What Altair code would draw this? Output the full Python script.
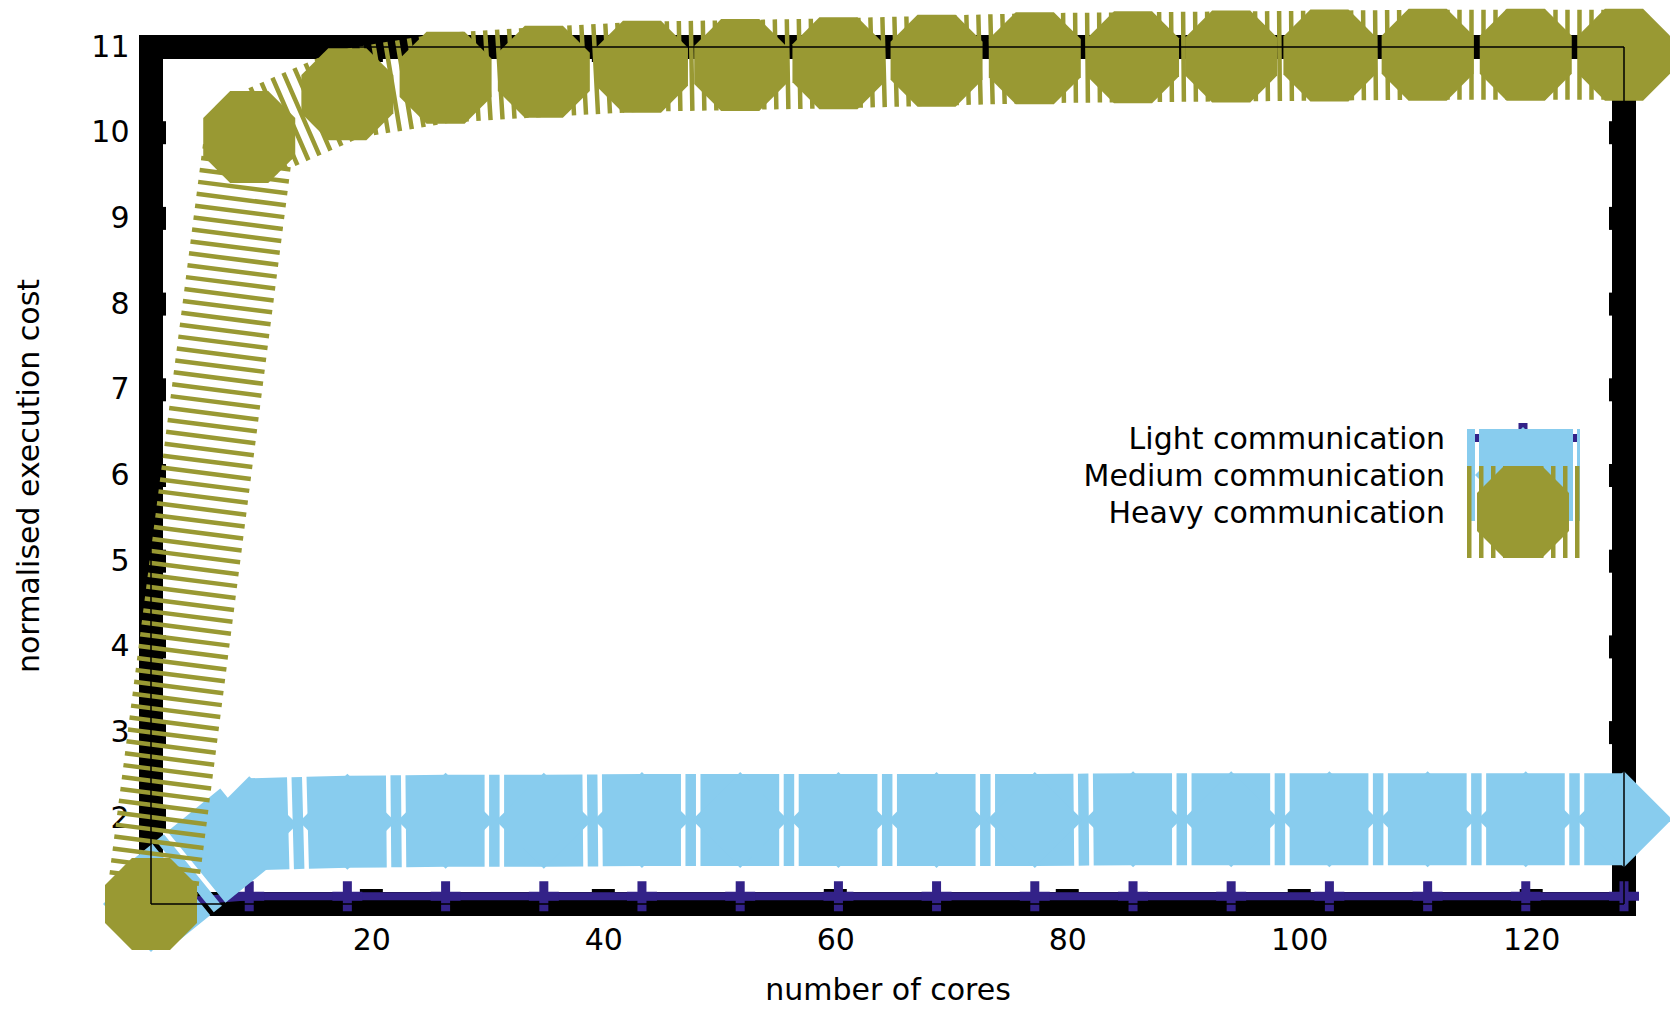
import altair as alt
import pandas as pd

# ---- data ----
cores = [1, 9.47, 17.93, 26.4, 34.87, 43.33, 51.8, 60.27, 68.73, 77.2,
         85.67, 94.13, 102.6, 111.07, 119.53, 128]
light = [1.0, 1.09, 1.09, 1.09, 1.09, 1.09, 1.09, 1.09, 1.09, 1.09,
         1.09, 1.09, 1.09, 1.09, 1.09, 1.09]
medium = [1.0, 1.93, 1.96, 1.97, 1.97, 1.98, 1.98, 1.98, 1.98, 1.98,
          1.99, 1.99, 1.99, 1.99, 1.99, 1.99]
heavy = [1.0, 9.95, 10.45, 10.64, 10.71, 10.77, 10.79, 10.81, 10.84, 10.87,
         10.88, 10.89, 10.90, 10.91, 10.91, 10.91]
series_names = ["Light communication", "Medium communication", "Heavy communication"]
x_ticks = [20, 40, 60, 80, 100, 120]
y_ticks = [1, 2, 3, 4, 5, 6, 7, 8, 9, 10, 11]
x_domain = [1, 128]
y_domain = [1, 11]

PURPLE = "#332288"
BLUE = "#88CCEE"
OLIVE = "#999933"
FONT = "DejaVu Sans"
FS = 30
W, H = 1473, 857

df_light = pd.DataFrame({"x": cores, "y": light})
df_medium = pd.DataFrame({"x": cores, "y": medium})
df_medium_seg = pd.DataFrame({"x": cores[:-1], "x2": cores[1:],
                              "y": medium[:-1], "y2": medium[1:]})
df_heavy = pd.DataFrame({"x": cores, "y": heavy})
frame = pd.DataFrame({
    "x": [x_domain[0], x_domain[0], x_domain[1], x_domain[0]],
    "x2": [x_domain[0], x_domain[1], x_domain[1], x_domain[1]],
    "y": [y_domain[0], y_domain[0], y_domain[0], y_domain[1]],
    "y2": [y_domain[1], y_domain[0], y_domain[1], y_domain[1]],
})
df_xt = pd.DataFrame({"x": x_ticks})
df_yt = pd.DataFrame({"y": y_ticks})
one = pd.DataFrame({"a": [0]})

xs = alt.Scale(domain=x_domain, nice=False, zero=False)
ys = alt.Scale(domain=y_domain, nice=False, zero=False)
x_axis = alt.Axis(values=x_ticks, title="number of cores", grid=False, domain=False,
                  ticks=False, tickSize=0, labelPadding=21, titleX=W / 2, titleY=95,
                  titleBaseline="alphabetic", titleAlign="center")
y_axis = alt.Axis(values=y_ticks, title="normalised execution cost", grid=False, domain=False,
                  ticks=False, tickSize=0, labelPadding=22, titleX=-122, titleY=H / 2,
                  titleBaseline="middle", titleAlign="center", titleAngle=-90)
X = alt.X("x:Q", scale=xs, axis=x_axis)
Y = alt.Y("y:Q", scale=ys, axis=y_axis)

OCT = "M-0.414,-1L0.414,-1L1,-0.414L1,0.414L0.414,1L-0.414,1L-1,0.414L-1,-0.414Z"
PLUS = "M-1,0L1,0M0,-1L0,1"

layers = []
# thick frame (behind data)
layers.append(alt.Chart(frame).mark_rule(color="black", strokeWidth=24, strokeCap="square")
              .encode(x=X, x2="x2:Q", y=Y, y2="y2:Q"))
# inward tick notches on the thick frame
for xv in [3, W - 3]:
    layers.append(alt.Chart(df_yt).mark_tick(orient="horizontal", color="black", size=24,
                                             thickness=23, opacity=1)
                  .encode(y=Y, x=alt.value(xv)))
for yv in [3, H - 3]:
    layers.append(alt.Chart(df_xt).mark_tick(orient="vertical", color="black", size=24,
                                             thickness=23, opacity=1)
                  .encode(x=X, y=alt.value(yv)))

# Light communication
layers.append(alt.Chart(df_light).mark_line(color=PURPLE, strokeWidth=8).encode(x=X, y=Y))
layers.append(alt.Chart(df_light).mark_point(shape=PLUS, size=900, filled=False, strokeWidth=9,
                                             color=PURPLE, opacity=1).encode(x=X, y=Y))
# Medium communication (segment by segment, dash restarting at each point)
layers.append(alt.Chart(df_medium_seg).mark_rule(color=BLUE, strokeWidth=92, strokeCap="butt",
                                                 strokeDash=[39, 4.5, 10.5, 4.5, 300])
              .encode(x=X, x2="x2:Q", y=Y, y2="y2:Q"))
layers.append(alt.Chart(df_medium).mark_point(shape="diamond", size=9216, filled=True,
                                              color=BLUE, opacity=1).encode(x=X, y=Y))
# Heavy communication
layers.append(alt.Chart(df_heavy).mark_line(color=OLIVE, strokeWidth=90, strokeCap="butt",
                                            strokeDash=[4.5, 7.5]).encode(x=X, y=Y))
layers.append(alt.Chart(df_heavy).mark_point(shape=OCT, size=8464, filled=True,
                                             color=OLIVE, opacity=1).encode(x=X, y=Y))
# thin frame on top
layers.append(alt.Chart(frame).mark_rule(color="black", strokeWidth=1.5)
              .encode(x=X, x2="x2:Q", y=Y, y2="y2:Q"))

# legend (labels left of samples, gnuplot style)
LX_TEXT, LX0, LX1, LXM, LY0, LDY = 1294, 1316, 1429, 1372, 391, 37
for i, name in enumerate(series_names):
    layers.append(alt.Chart(one).mark_text(align="right", baseline="alphabetic", fontSize=FS,
                                           font=FONT, color="black")
                  .encode(x=alt.value(LX_TEXT), y=alt.value(LY0 + i * LDY + 11),
                          text=alt.value(name)))
layers.append(alt.Chart(one).mark_rule(color=PURPLE, strokeWidth=8)
              .encode(x=alt.value(LX0), x2=alt.value(LX1), y=alt.value(LY0)))
layers.append(alt.Chart(one).mark_point(shape=PLUS, size=900, filled=False, strokeWidth=9,
                                        color=PURPLE, opacity=1)
              .encode(x=alt.value(LXM), y=alt.value(LY0)))
layers.append(alt.Chart(one).mark_rule(color=BLUE, strokeWidth=92, strokeDash=[8, 4, 94, 4, 10])
              .encode(x=alt.value(LX0), x2=alt.value(LX1), y=alt.value(LY0 + LDY)))
layers.append(alt.Chart(one).mark_point(shape="diamond", size=9216, filled=True, color=BLUE,
                                        opacity=1)
              .encode(x=alt.value(LXM), y=alt.value(LY0 + LDY)))
layers.append(alt.Chart(one).mark_rule(color=OLIVE, strokeWidth=92, strokeDash=[4.5, 7.5])
              .encode(x=alt.value(LX0), x2=alt.value(LX1), y=alt.value(LY0 + 2 * LDY)))
layers.append(alt.Chart(one).mark_point(shape=OCT, size=8464, filled=True, color=OLIVE,
                                        opacity=1)
              .encode(x=alt.value(LXM), y=alt.value(LY0 + 2 * LDY)))

chart = (alt.layer(*layers)
         .properties(width=W, height=H,
                     padding={"left": 143, "top": 39, "right": 46, "bottom": 101},
                     autosize=alt.AutoSizeParams(type="none"))
         .configure_view(stroke=None)
         .configure_axis(labelFont=FONT, labelFontSize=FS, labelColor="black",
                         titleFont=FONT, titleFontSize=FS, titleFontWeight="normal",
                         titleColor="black"))

chart.save("out.html", embed_options={"renderer": "svg", "actions": False})
